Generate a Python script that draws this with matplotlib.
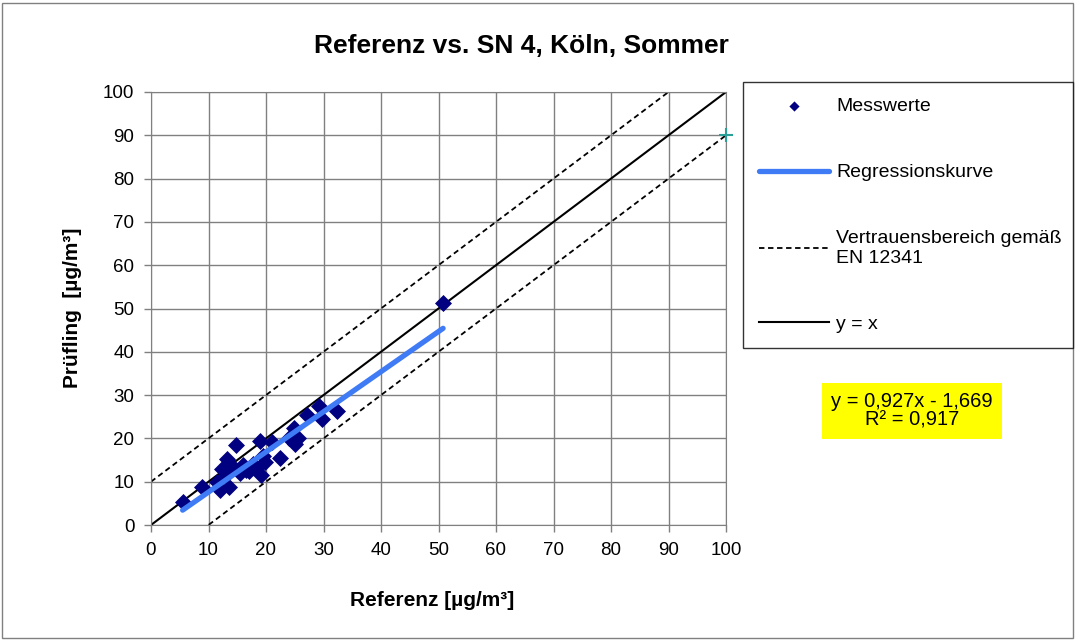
import numpy as np
import matplotlib
matplotlib.use("Agg")
import matplotlib.pyplot as plt
from matplotlib.patches import Rectangle

plt.rcParams['font.family'] = ['Liberation Sans', 'DejaVu Sans']

# Messwerte (Referenz, Pruefling)
ref = [5.5, 8.8, 12.0, 13.5, 13.3, 14.8, 12.3, 13.0, 14.2, 15.5, 16.0, 17.0,
       17.8, 18.3, 19.1, 18.9, 21.0, 22.5, 19.4, 25.1, 24.9, 24.0, 25.5,
       27.1, 29.2, 29.7, 32.3, 50.8, 11.5, 16.5, 19.8]
pruef = [5.3, 8.7, 8.1, 8.7, 15.3, 18.5, 12.9, 11.5, 13.5, 12.0, 13.8, 12.5,
         14.0, 13.2, 11.6, 19.3, 19.1, 15.5, 16.0, 18.6, 22.4, 20.2, 20.0,
         25.5, 27.4, 24.4, 26.3, 51.2, 10.0, 12.8, 14.5]
slope, intercept = 0.927, -1.669
r2 = 0.917
band = 10

W, H = 1075, 640
fig = plt.figure(figsize=(W / 100, H / 100), dpi=100)
fig.patches.append(Rectangle((2 / W, 2 / H), 1071 / W, 635 / H, transform=fig.transFigure,
                             fill=False, edgecolor='#808080', linewidth=1))

ax = fig.add_axes([151 / W, 1 - 525 / H, (726 - 151) / W, (525 - 92) / H])
ax.set_xlim(0, 100)
ax.set_ylim(0, 100)
ax.set_xticks(range(0, 101, 10))
ax.set_yticks(range(0, 101, 10))
ax.grid(True, color='#808080', linewidth=1)
ax.set_axisbelow(True)
for s in ax.spines.values():
    s.set_color('#808080')
ax.tick_params(labelsize=13.5, length=5, width=1, color='#808080', pad=7)

xs = np.array([0, 100])
h1, = ax.plot(xs, xs, color='black', linewidth=1.5)
h2, = ax.plot(xs, xs + band, color='black', linestyle=(0, (3, 2)), linewidth=1.3)
ax.plot(xs, xs - band, color='black', linestyle=(0, (3, 2)), linewidth=1.3)

h4 = ax.scatter(ref, pruef, marker='D', s=75, color='#000080', linewidths=0, zorder=5)
xr = np.array([min(ref), max(ref)])
h3, = ax.plot(xr, slope * xr + intercept, color='#3f7bf5', linewidth=3.8,
              solid_capstyle='round', zorder=6)
ax.plot([100], [90], marker='+', color='#2aa198', markersize=10, mew=1.5,
        clip_on=False, zorder=7)

fig.text(521 / W, 1 - 46 / H, 'Referenz vs. SN 4, Köln, Sommer', fontsize=19,
         fontweight='bold', ha='center', va='center')
fig.text(432 / W, 1 - 600 / H, 'Referenz [µg/m³]', fontsize=15, fontweight='bold',
         ha='center', va='center')
fig.text(72 / W, 1 - 308 / H, 'Prüfling  [µg/m³]', fontsize=15, fontweight='bold',
         ha='center', va='center', rotation=90)

leg = fig.legend([h4, h3, h2, h1],
                 ['Messwerte', 'Regressionskurve',
                  'Vertrauensbereich gemäß\nEN 12341', 'y = x'],
                 loc='upper left', bbox_to_anchor=(743 / W, 1 - 82 / H - 0.01, 330 / W, 0.01),
                 mode='expand', fontsize=14, frameon=True, fancybox=False,
                 edgecolor='black', borderpad=0.8, labelspacing=2.5,
                 handlelength=3.6, handletextpad=0.4, markerscale=0.6,
                 borderaxespad=0)
leg.get_frame().set_linewidth(1)

eq = 'y = {} x - {}\nR² = {}'.format(f'{slope:.3f}'.replace('.', ','),
                                     f'{-intercept:.3f}'.replace('.', ','),
                                     f'{r2:.3f}'.replace('.', ',')).replace(' x', 'x')
fig.text(912 / W, 1 - 411 / H, eq, ha='center', va='center', fontsize=14.5,
         linespacing=1.0,
         bbox=dict(boxstyle='square,pad=0.45', facecolor='#ffff00', edgecolor='none'))

fig.savefig('out.png', dpi=100)
